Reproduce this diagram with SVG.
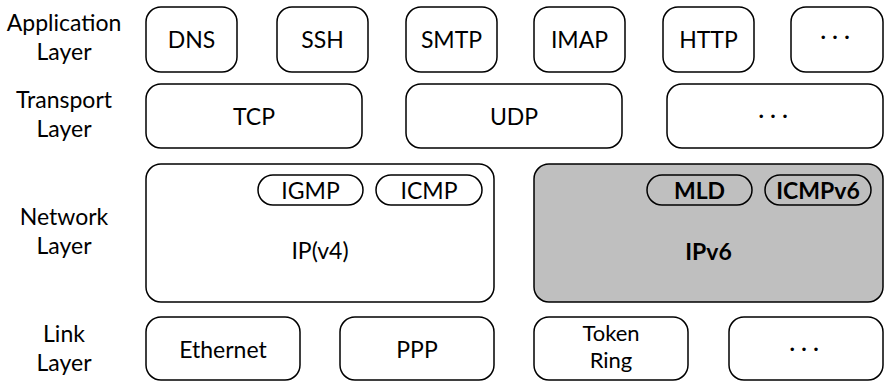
<svg xmlns="http://www.w3.org/2000/svg" width="884" height="381" viewBox="0 0 884 381">
  <style>
    text { font-family: Lato, "Liberation Sans", sans-serif; font-size: 23px; fill: #000; text-anchor: middle; }
    .b { font-weight: bold; }
    .box { fill: #fff; stroke: #000; stroke-width: 1.5; }
    .grey { fill: #bfbfbf; }
    .pill { fill: #fff; stroke: #000; stroke-width: 1.5; }
    .grey .pill { fill: #bfbfbf; }
  </style>
  <rect width="884" height="381" fill="#fff"/>

  <!-- layer labels -->
  <g id="layer-labels">
    <text x="64" y="31">Application</text>
    <text x="64" y="60">Layer</text>
    <text x="64" y="108">Transport</text>
    <text x="64" y="137">Layer</text>
    <text x="64" y="225">Network</text>
    <text x="64" y="254">Layer</text>
    <text x="64" y="342">Link</text>
    <text x="64" y="371">Layer</text>
  </g>

  <!-- application layer -->
  <g id="dns"><rect class="box" x="146" y="7" width="91" height="65" rx="15"/><text x="191.5" y="48">DNS</text></g>
  <g id="ssh"><rect class="box" x="277" y="7" width="91" height="65" rx="15"/><text x="322.5" y="48">SSH</text></g>
  <g id="smtp"><rect class="box" x="406" y="7" width="91" height="65" rx="15"/><text x="451.5" y="48">SMTP</text></g>
  <g id="imap"><rect class="box" x="534" y="7" width="91" height="65" rx="15"/><text x="579.5" y="48">IMAP</text></g>
  <g id="http"><rect class="box" x="663" y="7" width="91" height="65" rx="15"/><text x="708.5" y="48">HTTP</text></g>
  <g id="app-more"><rect class="box" x="791" y="7" width="92" height="65" rx="15"/><text x="835" y="44">· · ·</text></g>

  <!-- transport layer -->
  <g id="tcp"><rect class="box" x="146" y="84" width="216" height="64" rx="15"/><text x="254" y="124.5">TCP</text></g>
  <g id="udp"><rect class="box" x="406" y="84" width="216" height="64" rx="15"/><text x="514" y="124.5">UDP</text></g>
  <g id="transport-more"><rect class="box" x="667" y="84" width="216" height="64" rx="15"/><text x="773" y="122.5">· · ·</text></g>

  <!-- network layer -->
  <g id="ipv4">
    <rect class="box" x="146" y="164" width="348" height="138" rx="15"/>
    <text x="320" y="258.5">IP(v4)</text>
  </g>
  <g id="igmp"><rect class="pill" x="258" y="175" width="105" height="30" rx="15"/><text x="310.5" y="198.5">IGMP</text></g>
  <g id="icmp"><rect class="pill" x="376" y="175" width="106" height="30" rx="15"/><text x="429" y="198.5">ICMP</text></g>

  <g id="ipv6" class="grey">
    <rect class="box grey" x="534" y="164" width="349" height="138" rx="15"/>
    <text class="b" x="708.5" y="259.5">IPv6</text>
  </g>
  <g id="mld" class="grey"><rect class="pill" x="647" y="175" width="105" height="30" rx="15"/><text class="b" x="699.5" y="198.5">MLD</text></g>
  <g id="icmpv6" class="grey"><rect class="pill" x="765" y="175" width="106" height="30" rx="15"/><text class="b" x="818" y="198.5">ICMPv6</text></g>

  <!-- link layer -->
  <g id="ethernet"><rect class="box" x="146" y="317" width="154" height="63" rx="15"/><text x="223" y="358">Ethernet</text></g>
  <g id="ppp"><rect class="box" x="340" y="317" width="154" height="63" rx="15"/><text x="417" y="358">PPP</text></g>
  <g id="token-ring"><rect class="box" x="534" y="317" width="154" height="63" rx="15"/><text x="611" y="340.5" style="font-size:22px">Token</text><text x="611" y="367.5" style="font-size:22px">Ring</text></g>
  <g id="link-more"><rect class="box" x="729" y="317" width="154" height="63" rx="15"/><text x="804" y="355.5">· · ·</text></g>

  <g id="connectors"/>
</svg>
